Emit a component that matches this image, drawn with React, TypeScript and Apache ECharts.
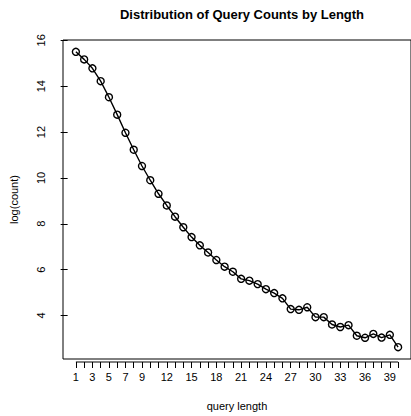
import React, { useEffect, useRef } from "react";
import * as echarts from "echarts";

const queryLength = [
  1, 2, 3, 4, 5, 6, 7, 8, 9, 10, 11, 12, 13, 14, 15, 16, 17, 18, 19, 20,
  21, 22, 23, 24, 25, 26, 27, 28, 29, 30, 31, 32, 33, 34, 35, 36, 37, 38, 39, 40,
];
const logCount = [
  15.5, 15.17, 14.78, 14.22, 13.52, 12.76, 11.97, 11.23, 10.52, 9.9,
  9.31, 8.8, 8.31, 7.85, 7.42, 7.06, 6.75, 6.42, 6.13, 5.91,
  5.6, 5.52, 5.37, 5.15, 4.98, 4.75, 4.28, 4.25, 4.36, 3.93,
  3.93, 3.61, 3.5, 3.58, 3.12, 3.03, 3.2, 3.04, 3.16, 2.62,
];
const xTickValues = [
  1, 2, 3, 4, 5, 6, 7, 8, 9, 10, 11, 12, 13, 14, 15, 16, 17, 18, 19, 20,
  21, 22, 23, 24, 25, 26, 27, 28, 29, 30, 31, 32, 33, 34, 35, 36, 37, 38, 39, 40,
];
const xLabelValues = [1, 3, 5, 7, 9, 12, 15, 18, 21, 24, 27, 30, 33, 36, 39];
const yTickValues = [4, 6, 8, 10, 12, 14, 16];

const FONT = "Liberation Sans, Arial, Helvetica, sans-serif";

export default function App() {
  const ref = useRef<HTMLDivElement>(null);
  useEffect(() => {
    if (!ref.current) return;
    const chart = echarts.init(ref.current, undefined, { renderer: "svg" });
    const xs = queryLength;
    const xLo = Math.min(...xs), xHi = Math.max(...xs);
    const yLo = Math.min(...logCount), yHi = Math.max(...logCount);
    const xPad = (xHi - xLo) * 0.04, yPad = (yHi - yLo) * 0.04;
    const xMin = xLo - xPad, xMax = xHi + xPad;
    const yMin = yLo - yPad, yMax = yHi + yPad;

    chart.setOption({
      animation: false,
      title: {
        text: "Distribution of Query Counts by Length",
        left: 237,
        top: 3,
        textAlign: "center",
        textStyle: { fontFamily: FONT, fontSize: 13, fontWeight: "bold", color: "#000" },
      },
      grid: {
        left: 60,
        top: 40,
        width: 354,
        height: 319.5,
        show: true,
        borderColor: "#000",
        borderWidth: 1,
        backgroundColor: "transparent",
      },
      xAxis: {
        type: "value",
        min: xMin,
        max: xMax,
        offset: 3,
        name: "query length",
        nameLocation: "middle",
        nameGap: 38,
        nameTextStyle: { fontFamily: FONT, fontSize: 11, color: "#000" },
        axisLine: { show: false },
        axisTick: {
          show: true,
          length: 6,
          customValues: xTickValues,
          lineStyle: { color: "#000", width: 1 },
        },
        axisLabel: {
          customValues: xLabelValues,
          margin: 9,
          fontFamily: FONT,
          fontSize: 11,
          color: "#000",
        },
        splitLine: { show: false },
      },
      yAxis: {
        type: "value",
        min: yMin,
        max: yMax,
        name: "log(count)",
        nameLocation: "middle",
        nameGap: 44,
        nameRotate: 90,
        nameTextStyle: { fontFamily: FONT, fontSize: 11, color: "#000" },
        axisLine: { show: false },
        axisTick: {
          show: true,
          length: 7,
          customValues: yTickValues,
          lineStyle: { color: "#000", width: 1 },
        },
        axisLabel: {
          customValues: yTickValues,
          rotate: 90,
          margin: 17,
          fontFamily: FONT,
          fontSize: 11,
          color: "#000",
        },
        splitLine: { show: false },
      },
      series: [
        {
          type: "line",
          data: queryLength.map((x, i) => [x, logCount[i]]),
          symbol: "circle",
          symbolSize: 7,
          showAllSymbol: true,
          itemStyle: { color: "rgba(0,0,0,0)", borderColor: "#000", borderWidth: 1.4 },
          lineStyle: { color: "#000", width: 1.4 },
          emphasis: { disabled: true },
        },
      ],
    });

    const p1 = chart.convertToPixel({ xAxisIndex: 0 } as any, xTickValues[0]) as number;
    const p2 = chart.convertToPixel({ xAxisIndex: 0 } as any, xTickValues[xTickValues.length - 1]) as number;
    const py = (chart.convertToPixel({ yAxisIndex: 0 } as any, yMin) as number) + 3;
    chart.setOption({
      graphic: [
        {
          type: "line",
          shape: { x1: p1, y1: py, x2: p2, y2: py },
          style: { stroke: "#000", lineWidth: 1 },
        },
      ],
    });

    return () => chart.dispose();
  }, []);
  return (
    <div
      ref={ref}
      style={{ position: "fixed", left: 0, top: 0, width: 411, height: 416, background: "#fff" }}
    />
  );
}
